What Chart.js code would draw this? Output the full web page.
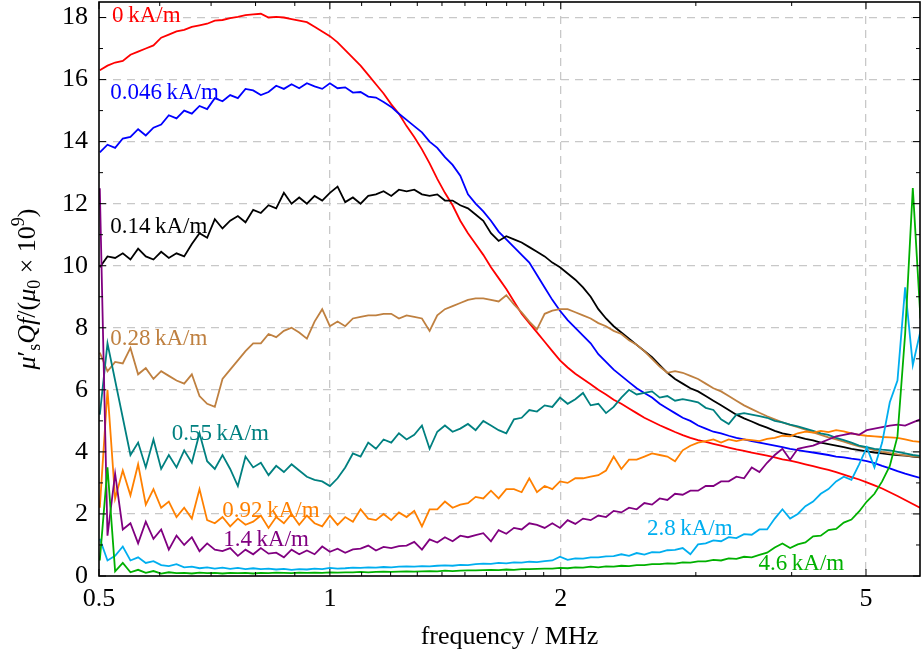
<!DOCTYPE html>
<html>
<head>
<meta charset="utf-8">
<script src="https://cdn.jsdelivr.net/npm/chart.js@4.4.1/dist/chart.umd.min.js"></script>
<style>
  html, body { margin: 0; padding: 0; background: #fff; }
  canvas { display: block; }
</style>
</head>
<body>
<canvas id="grafico" width="921" height="661"></canvas>
<script>
// Frequências (MHz), passo de 0.01 década
const frequencias = [
  0.5012, 0.5129, 0.5248, 0.5370, 0.5495, 0.5623, 0.5754, 0.5888, 0.6026, 0.6166,
  0.6310, 0.6457, 0.6607, 0.6761, 0.6918, 0.7079, 0.7244, 0.7413, 0.7586, 0.7762,
  0.7943, 0.8128, 0.8318, 0.8511, 0.8710, 0.8913, 0.9120, 0.9333, 0.9550, 0.9772,
  1.0000, 1.0233, 1.0471, 1.0715, 1.0965, 1.1220, 1.1482, 1.1749, 1.2023, 1.2303,
  1.2589, 1.2882, 1.3183, 1.3490, 1.3804, 1.4125, 1.4454, 1.4791, 1.5136, 1.5488,
  1.5849, 1.6218, 1.6596, 1.6982, 1.7378, 1.7783, 1.8197, 1.8621, 1.9055, 1.9498,
  1.9953, 2.0417, 2.0893, 2.1380, 2.1878, 2.2387, 2.2909, 2.3442, 2.3988, 2.4547,
  2.5119, 2.5704, 2.6303, 2.6915, 2.7542, 2.8184, 2.8840, 2.9512, 3.0200, 3.0903,
  3.1623, 3.2359, 3.3113, 3.3884, 3.4674, 3.5481, 3.6308, 3.7154, 3.8019, 3.8905,
  3.9811, 4.0738, 4.1687, 4.2658, 4.3652, 4.4668, 4.5709, 4.6774, 4.7863, 4.8978,
  5.0119, 5.1286, 5.2481, 5.3703, 5.4954, 5.6234, 5.7544, 5.8884
];

// Valores de mu's Q f / (mu0 x 10^9) para cada campo
const campo0 = [
  16.3, 16.45, 16.55, 16.6, 16.8, 16.9, 17.0, 17.1, 17.35, 17.45,
  17.55, 17.6, 17.7, 17.75, 17.8, 17.9, 17.92, 17.98, 18.02, 18.08,
  18.1, 18.12, 18.0, 18.02, 18.0, 17.95, 17.9, 17.85, 17.7, 17.55,
  17.4, 17.2, 16.95, 16.7, 16.45, 16.15, 15.85, 15.55, 15.2, 14.9,
  14.5, 14.15, 13.75, 13.3, 12.8, 12.35, 11.95, 11.45, 11.05, 10.7,
  10.35, 9.95, 9.6, 9.25, 8.85, 8.45, 8.15, 7.85, 7.55, 7.25,
  6.95, 6.72, 6.52, 6.35, 6.18, 6.0, 5.85, 5.68, 5.55, 5.4,
  5.25, 5.1, 4.98, 4.86, 4.75, 4.64, 4.54, 4.45, 4.38, 4.32,
  4.26, 4.2, 4.14, 4.08, 4.03, 3.98, 3.93, 3.88, 3.82, 3.76,
  3.72, 3.66, 3.6, 3.54, 3.48, 3.42, 3.35, 3.27, 3.19, 3.11,
  3.02, 2.92, 2.82, 2.7, 2.58, 2.45, 2.32, 2.19
];
const campo0046 = [
  13.65, 13.9, 13.8, 14.1, 14.15, 14.4, 14.2, 14.45, 14.55, 14.85,
  14.75, 15.0, 14.9, 15.15, 15.05, 15.4, 15.3, 15.5, 15.4, 15.7,
  15.65, 15.5, 15.6, 15.8, 15.7, 15.85, 15.72, 15.88, 15.78, 15.7,
  15.88, 15.72, 15.75, 15.58, 15.6, 15.45, 15.42, 15.28, 15.12, 14.9,
  14.7, 14.5, 14.3, 14.0, 13.8, 13.5, 13.25, 12.9, 12.3, 12.0,
  11.75, 11.45, 11.1, 10.85, 10.6, 10.35, 10.1, 9.7, 9.3, 8.9,
  8.55, 8.25, 8.0, 7.75, 7.5, 7.15, 6.9, 6.65, 6.45, 6.25,
  6.05, 5.9, 5.75, 5.55, 5.4, 5.25, 5.1, 5.0, 4.85, 4.75,
  4.65, 4.6, 4.52, 4.45, 4.4, 4.35, 4.3, 4.25, 4.2, 4.15,
  4.1, 4.06, 4.02, 3.98, 3.94, 3.9, 3.85, 3.82, 3.78, 3.75,
  3.7, 3.64, 3.55, 3.47, 3.38, 3.3, 3.23, 3.16
];
const campo014 = [
  9.95, 10.3, 10.25, 10.4, 10.2, 10.55, 10.3, 10.2, 10.45, 10.25,
  10.4, 10.3, 10.7, 11.05, 10.9, 11.5, 11.2, 11.45, 11.6, 11.4,
  11.8, 11.7, 11.95, 11.85, 12.35, 12.0, 12.2, 12.0, 12.25, 12.1,
  12.35, 12.55, 12.05, 12.2, 12.0, 12.25, 12.3, 12.4, 12.25, 12.45,
  12.4, 12.45, 12.3, 12.25, 12.3, 12.1, 12.1, 11.95, 11.85, 11.65,
  11.45, 11.05, 10.8, 10.95, 10.85, 10.75, 10.6, 10.45, 10.3, 10.1,
  9.95, 9.75, 9.55, 9.3, 9.0, 8.6, 8.3, 8.05, 7.85, 7.65,
  7.45, 7.25, 7.05, 6.8, 6.55, 6.35, 6.2, 6.05, 5.95, 5.8,
  5.65, 5.5, 5.35, 5.2, 5.08, 4.98, 4.87, 4.78, 4.68, 4.6,
  4.55, 4.48, 4.42, 4.37, 4.3, 4.25, 4.2, 4.15, 4.1, 4.06,
  4.02, 3.98, 3.95, 3.92, 3.9, 3.88, 3.85, 3.82
];
const campo028 = [
  7.2, 6.6, 6.9, 6.85, 7.35, 6.5, 6.7, 6.35, 6.6, 6.45,
  6.3, 6.2, 6.5, 5.8, 5.55, 5.45, 6.35, 6.65, 6.95, 7.25,
  7.5, 7.5, 7.8, 7.7, 7.9, 8.0, 7.85, 7.65, 8.2, 8.6,
  8.05, 8.2, 8.05, 8.3, 8.35, 8.4, 8.4, 8.45, 8.45, 8.3,
  8.4, 8.35, 8.3, 7.9, 8.4, 8.6, 8.7, 8.8, 8.9, 8.95,
  8.95, 8.9, 8.85, 9.05, 8.75, 8.5, 8.2, 7.95, 8.45, 8.55,
  8.6, 8.6, 8.5, 8.4, 8.3, 8.15, 8.05, 7.9, 7.8, 7.6,
  7.45, 7.25, 7.0, 6.75, 6.55, 6.6, 6.55, 6.45, 6.35, 6.2,
  6.05, 5.95, 5.8, 5.65, 5.5, 5.38, 5.26, 5.15, 5.05, 4.95,
  4.87, 4.8, 4.72, 4.63, 4.55, 4.47, 4.4, 4.33, 4.25, 4.18,
  4.12, 4.06, 4.0, 3.96, 3.92, 3.89, 3.86, 3.84
];
const campo055 = [
  5.2, 7.5, 6.3, 5.1, 3.9, 4.3, 3.5, 4.4, 3.45, 3.9,
  3.5, 4.05, 3.65, 4.6, 3.7, 3.45, 3.9, 3.45, 2.9, 3.85,
  3.5, 3.65, 3.25, 3.55, 3.35, 3.6, 3.4, 3.2, 3.1, 3.05,
  2.9, 3.15, 3.5, 3.95, 3.85, 4.3, 4.1, 4.4, 4.3, 4.6,
  4.4, 4.55, 4.85, 4.1, 4.65, 4.85, 4.65, 4.75, 4.9, 4.7,
  5.0, 4.85, 4.7, 4.6, 5.05, 5.1, 5.35, 5.3, 5.5, 5.45,
  5.75, 5.55, 5.7, 5.9, 5.5, 5.55, 5.25, 5.45, 5.75, 6.0,
  5.85, 5.9, 5.95, 5.75, 5.8, 5.65, 5.7, 5.65, 5.6, 5.42,
  5.35, 5.05, 4.9, 5.2, 5.25, 5.2, 5.15, 5.1, 5.0, 4.95,
  4.88, 4.82, 4.75, 4.68, 4.6, 4.55, 4.45, 4.38, 4.3, 4.2,
  4.15, 4.1, 4.07, 4.05, 4.0, 3.95, 3.9, 3.87
];
const campo092 = [
  2.2, 6.0, 2.5, 3.4, 2.6, 3.6, 2.3, 2.8, 2.2, 2.4,
  1.9, 2.2, 1.85, 2.8, 1.8, 1.7, 1.9, 1.6, 1.85, 1.65,
  1.75, 1.95, 1.55, 1.9, 1.7, 2.0, 1.65, 1.95, 1.7, 1.6,
  1.95, 1.65, 1.9, 1.75, 2.15, 1.85, 1.8, 2.0, 1.8, 2.05,
  1.9, 2.1, 1.6, 2.15, 2.15, 2.4, 2.2, 2.3, 2.35, 2.55,
  2.5, 2.75, 2.5, 2.8, 2.8, 2.7, 3.15, 2.7, 2.9, 2.8,
  3.05, 3.0, 3.15, 3.15, 3.2, 3.25, 3.4, 3.85, 3.45, 3.75,
  3.75, 3.85, 3.95, 3.9, 3.85, 3.7, 4.05, 4.2, 4.3, 4.35,
  4.4, 4.3, 4.4, 4.35, 4.4, 4.38, 4.35, 4.42, 4.45, 4.52,
  4.5, 4.6, 4.65, 4.62, 4.68, 4.64, 4.7, 4.66, 4.6, 4.55,
  4.52, 4.5, 4.48, 4.47, 4.45, 4.4, 4.35, 4.32
];
const campo14 = [
  12.5, 1.3, 3.3, 1.5, 1.7, 1.05, 1.75, 1.2, 1.5, 0.85,
  1.3, 1.0, 1.25, 0.8, 1.05, 0.85, 0.8, 0.9, 0.65, 0.85,
  0.7, 0.9, 0.72, 0.75, 0.6, 0.85, 0.7, 0.82, 0.7, 0.95,
  0.78, 0.88, 0.75, 0.86, 0.88, 0.98, 0.82, 0.94, 0.9, 0.96,
  0.98, 1.1, 0.85, 1.18, 1.08, 1.25, 1.12, 1.3, 1.25, 1.32,
  1.38, 1.12, 1.48, 1.36, 1.55, 1.5, 1.7, 1.65, 1.55, 1.7,
  1.55, 1.8, 1.68, 1.85, 1.8, 1.95, 1.9, 2.1, 2.05, 2.2,
  2.15, 2.35, 2.3, 2.5, 2.45, 2.65, 2.62, 2.75, 2.75, 2.9,
  2.9, 3.05, 3.05, 3.2, 3.15, 3.5, 3.35, 3.65, 3.9, 4.1,
  3.75, 4.1, 4.15, 4.2, 4.3, 4.4, 4.5, 4.55, 4.6, 4.55,
  4.7, 4.75, 4.8, 4.85, 4.88, 4.85, 4.95, 5.05
];
const campo28 = [
  1.2, 0.5, 0.65, 0.95, 0.5, 0.6, 0.42, 0.48, 0.35, 0.32,
  0.38, 0.28, 0.3, 0.25, 0.28, 0.24, 0.27, 0.23, 0.26, 0.22,
  0.25, 0.22, 0.24, 0.21, 0.23, 0.2, 0.22, 0.21, 0.24, 0.22,
  0.26, 0.24, 0.25, 0.27, 0.26, 0.28, 0.27, 0.29, 0.28, 0.3,
  0.31, 0.3, 0.32, 0.31, 0.33, 0.34, 0.33, 0.36, 0.35, 0.38,
  0.4, 0.39, 0.42, 0.41, 0.44, 0.43, 0.46, 0.45, 0.48, 0.5,
  0.62, 0.52, 0.57, 0.56, 0.6, 0.6, 0.63, 0.64, 0.7, 0.65,
  0.74, 0.69, 0.77, 0.76, 0.83, 0.84, 0.9, 0.7, 1.02, 1.05,
  1.15, 1.12, 1.25, 1.22, 1.35, 1.33, 1.5, 1.5, 1.85, 2.15,
  1.85, 2.0, 2.25, 2.4, 2.65, 2.8, 3.05, 3.2, 3.1, 3.6,
  4.15, 3.5, 4.3, 5.6, 6.3, 9.3, 6.8, 7.9
];
const campo46 = [
  0.5, 3.5, 0.15, 0.42, 0.12, 0.2, 0.1, 0.16, 0.08, 0.12,
  0.09, 0.1, 0.08, 0.11, 0.09, 0.1, 0.08, 0.1, 0.09, 0.1,
  0.08, 0.1, 0.09, 0.11, 0.1, 0.09, 0.11, 0.1, 0.11, 0.1,
  0.12, 0.11, 0.12, 0.12, 0.13, 0.12, 0.13, 0.14, 0.13, 0.14,
  0.15, 0.14, 0.15, 0.16, 0.15, 0.17, 0.16, 0.17, 0.18, 0.18,
  0.19, 0.2, 0.19, 0.21, 0.2, 0.22, 0.22, 0.23, 0.24, 0.24,
  0.26, 0.25, 0.28, 0.27, 0.3, 0.28, 0.31, 0.3, 0.33, 0.32,
  0.35, 0.35, 0.38, 0.38, 0.41, 0.4, 0.44, 0.43, 0.47, 0.47,
  0.52, 0.5, 0.57, 0.55, 0.62, 0.6, 0.68, 0.75, 0.92, 1.05,
  0.9, 1.02, 1.08, 1.28, 1.3, 1.48, 1.52, 1.72, 1.82, 2.08,
  2.4, 2.65, 3.05, 3.55, 4.5, 7.8, 12.5, 8.3
];

const series = [campo0, campo0046, campo014, campo028, campo055, campo092, campo14, campo28, campo46];
const rotulos = ['0\u2009kA/m', '0.046\u2009kA/m', '0.14\u2009kA/m', '0.28\u2009kA/m', '0.55\u2009kA/m',
                 '0.92\u2009kA/m', '1.4\u2009kA/m', '2.8\u2009kA/m', '4.6\u2009kA/m'];
const cores = ['#ff0000', '#0000ff', '#000000', '#bf8040', '#008080', '#ff8000', '#800080', '#00aeef', '#00b000'];

// Posição dos rótulos das curvas (frequência, valor)
const rotuloX = [0.52, 0.517, 0.517, 0.517, 0.622, 0.724, 0.726, 2.59, 3.62];
const rotuloY = [18.05, 15.57, 11.25, 7.64, 4.58, 2.09, 1.16, 1.51, 0.39];

// Marcas dos eixos
const ticksX = [0.5, 1, 2, 5];
const labelsX = ['0.5', '1', '2', '5'];
const ticksXMenores = [0.6, 0.7, 0.8, 0.9, 1.1, 1.2, 1.3, 1.4, 1.5, 1.6, 1.7, 1.8, 1.9, 3, 4];
const ticksY = [0, 2, 4, 6, 8, 10, 12, 14, 16, 18];
const ticksYMenores = [1, 3, 5, 7, 9, 11, 13, 15, 17];

const fonte = '"Liberation Serif", "Times New Roman", serif';

// Rótulos coloridos junto das curvas
const pluginRotulos = {
    id: 'rotulos',
    beforeDatasetsDraw(chart) {
        const ctx = chart.ctx;
        ctx.save();
        ctx.font = '23px ' + fonte;
        ctx.textAlign = 'left';
        ctx.textBaseline = 'middle';
        for (let i = 0; i < rotulos.length; i++) {
            ctx.fillStyle = cores[i];
            ctx.fillText(rotulos[i], chart.scales.x.getPixelForValue(rotuloX[i]), chart.scales.y.getPixelForValue(rotuloY[i]));
        }
        ctx.restore();
    }
};

// Moldura e marcas internas (estilo pgfplots)
const pluginMoldura = {
    id: 'moldura',
    afterDatasetsDraw(chart) {
        const ctx = chart.ctx;
        const { left, right, top, bottom } = chart.chartArea;
        const x = chart.scales.x, y = chart.scales.y;
        ctx.save();
        ctx.strokeStyle = '#000';
        ctx.lineWidth = 1;
        ctx.beginPath();
        const marca = (x1, y1, x2, y2) => { ctx.moveTo(x1, y1); ctx.lineTo(x2, y2); };
        ticksX.forEach(v => { const p = x.getPixelForValue(v); marca(p, bottom, p, bottom - 7); marca(p, top, p, top + 7); });
        ticksXMenores.forEach(v => { const p = x.getPixelForValue(v); marca(p, bottom, p, bottom - 4); marca(p, top, p, top + 4); });
        ticksY.forEach(v => { const p = y.getPixelForValue(v); marca(left, p, left + 7, p); marca(right, p, right - 7, p); });
        ticksYMenores.forEach(v => { const p = y.getPixelForValue(v); marca(left, p, left + 4, p); marca(right, p, right - 4, p); });
        ctx.stroke();
        ctx.lineWidth = 1.6;
        ctx.strokeRect(left, top, right - left, bottom - top);
        ctx.restore();
    }
};

// Título do eixo y com índices
const pluginTituloY = {
    id: 'tituloY',
    afterDraw(chart) {
        const ctx = chart.ctx;
        const { top, bottom } = chart.chartArea;
        const partes = [
            { t: 'μ', f: 'italic 26px ', dy: 0 },
            { t: '′', f: '26px ', dy: 0 },
            { t: 's', f: '18px ', dy: 5 },
            { t: 'Q', f: 'italic 26px ', dy: 0 },
            { t: 'f', f: 'italic 26px ', dy: 0 },
            { t: '/(', f: '26px ', dy: 0 },
            { t: 'μ', f: 'italic 26px ', dy: 0 },
            { t: '0', f: '18px ', dy: 5 },
            { t: ' × 10', f: '26px ', dy: 0 },
            { t: '9', f: '18px ', dy: -11 },
            { t: ')', f: '26px ', dy: 0 }
        ];
        ctx.save();
        let total = 0;
        partes.forEach(p => { ctx.font = p.f + fonte; p.w = ctx.measureText(p.t).width; total += p.w; });
        ctx.translate(35, (top + bottom) / 2);
        ctx.rotate(-Math.PI / 2);
        ctx.fillStyle = '#000';
        ctx.textBaseline = 'alphabetic';
        ctx.textAlign = 'left';
        let pos = -total / 2;
        partes.forEach(p => { ctx.font = p.f + fonte; ctx.fillText(p.t, pos, p.dy); pos += p.w; });
        ctx.restore();
    }
};

function gerarGrafico() {
    const ctx = document.getElementById('grafico').getContext('2d');

    const datasets = [];
    for (let i = 0; i < series.length; i++) {
        datasets.push({
            label: rotulos[i],
            data: series[i].map((v, j) => ({ x: frequencias[j], y: v })),
            borderColor: cores[i],
            borderWidth: 1.8,
            pointRadius: 0,
            fill: false,
            tension: 0,
            order: series.length - i
        });
    }

    new Chart(ctx, {
        type: 'line',
        data: { datasets: datasets },
        options: {
            responsive: false,
            animation: false,
            devicePixelRatio: 1,
            layout: { padding: { top: 2, right: 1, left: 0, bottom: 0 } },
            plugins: { legend: { display: false }, tooltip: { enabled: false } },
            scales: {
                x: {
                    type: 'logarithmic',
                    min: 0.5,
                    max: 5.88,
                    afterBuildTicks: s => { s.ticks = ticksX.map(v => ({ value: v })); },
                    afterFit: s => { s.height = 85; s.paddingLeft = 0; s.paddingRight = 0; },
                    ticks: {
                        autoSkip: false,
                        maxRotation: 0,
                        padding: 8,
                        color: '#000',
                        font: { family: fonte, size: 26 },
                        callback: (v, i) => labelsX[i]
                    },
                    grid: {
                        drawTicks: false,
                        color: c => (c.tick && c.tick.value === 0.5) ? 'rgba(0,0,0,0)' : '#c8c8c8',
                        lineWidth: 1.3
                    },
                    border: { display: false, dash: [8, 6] },
                    title: {
                        display: true,
                        text: 'frequency / MHz',
                        color: '#000',
                        font: { family: fonte, size: 26 },
                        padding: { top: 0, bottom: 8 }
                    }
                },
                y: {
                    min: 0,
                    max: 18.5,
                    afterBuildTicks: s => { s.ticks = ticksY.map(v => ({ value: v })); },
                    afterFit: s => { s.width = 99; s.paddingTop = 0; s.paddingBottom = 0; },
                    ticks: {
                        padding: 11,
                        color: '#000',
                        font: { family: fonte, size: 26 },
                        callback: v => String(v)
                    },
                    grid: {
                        drawTicks: false,
                        color: c => (c.tick && c.tick.value === 0) ? 'rgba(0,0,0,0)' : '#c8c8c8',
                        lineWidth: 1.3
                    },
                    border: { display: false, dash: [8, 6] }
                }
            }
        },
        plugins: [pluginRotulos, pluginMoldura, pluginTituloY]
    });
}

gerarGrafico();
</script>
</body>
</html>
